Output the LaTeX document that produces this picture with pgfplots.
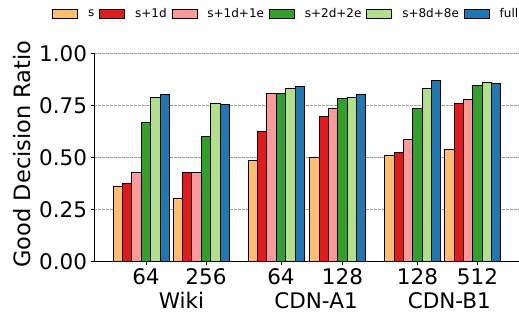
\documentclass[border=0pt]{standalone}
\usepackage{fontspec}
\setmainfont{DejaVu Sans}
\usepackage{pgfplots}
\pgfplotsset{compat=1.18}
\definecolor{cS}{HTML}{FDBF6F}
\definecolor{cA}{HTML}{E31A1C}
\definecolor{cB}{HTML}{FB9A99}
\definecolor{cC}{HTML}{33A02C}
\definecolor{cD}{HTML}{B2DF8A}
\definecolor{cE}{HTML}{1F78B4}
\begin{document}
\begin{tikzpicture}
\useasboundingbox (0pt,0pt) rectangle (519pt,313pt);
\begin{axis}[
  at={(94pt,51.7pt)}, anchor=south west,
  scale only axis, width=425pt, height=208pt,
  xmin=94, xmax=519, ymin=0, ymax=1,
  ybar=0pt, bar width=9.35,
  axis x line*=bottom, axis y line*=left,
  axis line style={line width=1pt},
  xtick={146,206,281,342.5,417.5,477.5},
  xticklabels={64,256,64,128,128,512},
  ytick={0,0.25,0.5,0.75,1},
  yticklabel style={/pgf/number format/.cd, fixed, fixed zerofill, precision=2, assume math mode=true},
  tick style={black, line width=0.9pt},
  major tick length=3.5pt,
  tick align=outside,
  ymajorgrids,
  grid style={gray!80, line width=0.6pt, dash pattern=on 2.5pt off 1.5pt},
  tick label style={font=\fontsize{21.5}{25}\selectfont},
  clip=false,
  every axis plot/.append style={draw=black, line width=1pt},
  legend columns=6,
  legend style={at={(-0.0988,1.189)}, anchor=west, draw=none, fill=none,
    inner sep=0pt, column sep=0pt, font=\fontsize{12}{14}\selectfont,
    nodes={inner sep=0pt},
    /tikz/every odd column/.append style={column sep=10pt},
    /tikz/every even column/.append style={column sep=5pt}},
  legend image code/.code={\draw[#1, line width=0.8pt] (0pt,-4.2pt) rectangle (25pt,4.2pt);},
]
\addplot[fill=cS] coordinates {(141.3,0.359) (201.3,0.304) (276.3,0.487) (337.8,0.498) (412.8,0.510) (472.8,0.537)};
\addplot[fill=cA] coordinates {(141.3,0.372) (201.3,0.426) (276.3,0.626) (337.8,0.697) (412.8,0.521) (472.8,0.761)};
\addplot[fill=cB] coordinates {(141.3,0.426) (201.3,0.426) (276.3,0.806) (337.8,0.735) (412.8,0.586) (472.8,0.779)};
\addplot[fill=cC] coordinates {(141.3,0.668) (201.3,0.601) (276.3,0.809) (337.8,0.784) (412.8,0.735) (472.8,0.846)};
\addplot[fill=cD] coordinates {(141.3,0.788) (201.3,0.758) (276.3,0.830) (337.8,0.788) (412.8,0.830) (472.8,0.860)};
\addplot[fill=cE] coordinates {(141.3,0.800) (201.3,0.753) (276.3,0.841) (337.8,0.803) (412.8,0.870) (472.8,0.856)};
\legend{s,s+1d,s+1d+1e,s+2d+2e,s+8d+8e,full}
\node[anchor=base, font=\fontsize{21.5}{25}\selectfont] at (axis cs:181.5,-0.228) {Wiki};
\node[anchor=base, font=\fontsize{21.5}{25}\selectfont] at (axis cs:316,-0.228) {CDN-A1};
\node[anchor=base, font=\fontsize{21.5}{25}\selectfont] at (axis cs:449.3,-0.228) {CDN-B1};
\end{axis}
\node[rotate=90, anchor=base, font=\fontsize{22.5}{26}\selectfont] at (30pt,159pt) {Good Decision Ratio};
\end{tikzpicture}
\end{document}
